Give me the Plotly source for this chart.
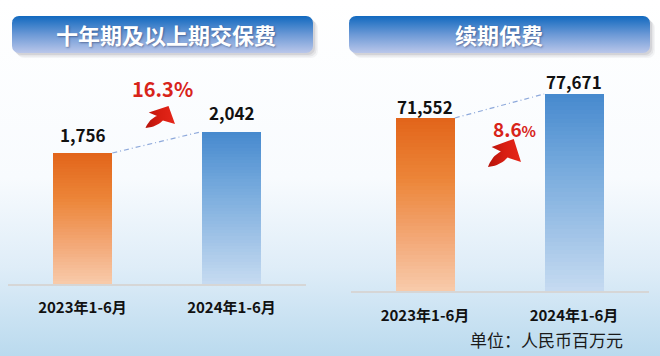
import plotly.graph_objects as go

W, H = 660, 356

# ---------------- data ----------------
categories = ["2023年1-6月", "2024年1-6月"]
panel_titles = ["十年期及以上期交保费", "续期保费"]
premium_10yr_plus = [1756, 2042]
renewal_premium = [71552, 77671]
unit_label = "单位：人民币百万元"

FONT = "Noto Sans CJK SC"
RED = "#D8241A"


def Y(px):
    return H - px


def hex2rgb(h):
    h = h.lstrip("#")
    return tuple(int(h[i:i + 2], 16) for i in (0, 2, 4))


def interp(stops, t):
    for (t0, c0), (t1, c1) in zip(stops[:-1], stops[1:]):
        if t0 <= t <= t1:
            f = (t - t0) / (t1 - t0) if t1 > t0 else 0
            a, b = hex2rgb(c0), hex2rgb(c1)
            return "rgb(%d,%d,%d)" % tuple(round(a[k] + (b[k] - a[k]) * f) for k in range(3))
    return stops[-1][1]


ORANGE = [(0, "#F8CBAB"), (0.3, "#F3A877"), (0.65, "#EC8538"), (1, "#E2641A")]
BLUE = [(0, "#C6DBF1"), (0.3, "#A0C3E7"), (0.65, "#73A8DC"), (1, "#4689CE")]


def rounded_rect(x0, y0, x1, y1, r, n=8):
    import math
    xs, ys = [], []
    corners = [(x1 - r, y0 + r, -90, 0), (x1 - r, y1 - r, 0, 90),
               (x0 + r, y1 - r, 90, 180), (x0 + r, y0 + r, 180, 270)]
    for cx, cy, a0, a1 in corners:
        for k in range(n + 1):
            a = math.radians(a0 + (a1 - a0) * k / n)
            xs.append(cx + r * math.cos(a))
            ys.append(Y(cy + r * math.sin(a)))
    xs.append(xs[0]); ys.append(ys[0])
    return xs, ys


def qbez(p0, c, p1, n=10):
    pts = []
    for k in range(n + 1):
        t = k / n
        pts.append(((1 - t) ** 2 * p0[0] + 2 * (1 - t) * t * c[0] + t * t * p1[0],
                    (1 - t) ** 2 * p0[1] + 2 * (1 - t) * t * c[1] + t * t * p1[1]))
    return pts


fig = go.Figure()

# background gradient
fig.add_trace(go.Scatter(
    x=[0, W, W, 0, 0], y=[0, 0, H, H, 0], mode="lines", line=dict(width=0),
    fill="toself", fillgradient=dict(type="vertical", start=0, stop=H,
                                     colorscale=[[0, "#BADAEE"], [0.25, "#DFEDF8"],
                                                 [0.5, "#F8FBFE"], [1, "#FFFFFF"]]),
    hoverinfo="skip", showlegend=False, xaxis="x", yaxis="y"))

# banners
banners = [(12, 16, 313, 53, 166), (349, 16, 650, 53, 499)]
for (bx0, by0, bx1, by1, tx), title in zip(banners, panel_titles):
    for off, alpha in [(5, 0.05), (3.5, 0.08), (2, 0.10)]:
        xs, ys = rounded_rect(bx0 + off, by0 + off, bx1 + off, by1 + off, 7)
        fig.add_trace(go.Scatter(x=xs, y=ys, mode="lines", line=dict(width=0),
                                 fill="toself", fillcolor="rgba(60,60,80,%g)" % alpha,
                                 hoverinfo="skip", showlegend=False, xaxis="x", yaxis="y"))
    xs, ys = rounded_rect(bx0, by0, bx1, by1, 7)
    fig.add_trace(go.Scatter(
        x=xs, y=ys, mode="lines", line=dict(width=0), fill="toself",
        fillgradient=dict(type="vertical", start=Y(by1), stop=Y(by0),
                          colorscale=[[0, "#BAC7EA"], [0.5, "#6C99D6"], [1, "#1169BF"]]),
        hoverinfo="skip", showlegend=False, xaxis="x", yaxis="y"))
    fig.add_annotation(x=tx, y=Y(34), xref="x", yref="y", text=title, showarrow=False,
                       font=dict(family=FONT, size=22, color="white", weight="bold",
                                 shadow="1px 1px 2px rgba(0,0,40,0.35)"))

# curved red arrows (normalized template in a unit box, y downward)
T, RIN, HR, TP, HL, LIN = (0, 1), (0.59, 0.66), (1.0, 0.82), (0.78, 0), (0.11, 0.29), (0.39, 0.45)
ARROW = (qbez(T, (0.36, 0.97), RIN) + [HR, TP, HL] + qbez(LIN, (0.12, 0.6), T))
arrow_boxes = [(145.5, 106, 29.5, 22), (488, 139, 33, 28)]
for ax0, ay0, aw, ah in arrow_boxes:
    fig.add_trace(go.Scatter(
        x=[ax0 + p[0] * aw for p in ARROW], y=[Y(ay0 + p[1] * ah) for p in ARROW],
        mode="lines", line=dict(width=0), fill="toself",
        fillgradient=dict(type="horizontal", start=ax0, stop=ax0 + aw,
                          colorscale=[[0, "#B5120A"], [0.5, "#D81E12"], [1, "#E5261A"]]),
        hoverinfo="skip", showlegend=False, xaxis="x", yaxis="y"))

# bar panels
panels = [
    dict(vals=premium_10yr_plus, xa="x2", ya="y2", ymin=0, shift=19,
         pct_pos=(162, 88), pct_size=20, pct_small=20),
    dict(vals=renewal_premium, xa="x3", ya="y3", ymin=27500, shift=12,
         pct_pos=(514, 128), pct_size=19, pct_small=15),
]
N = 48
BW = 0.4
for p in panels:
    vals, ymin = p["vals"], p["ymin"]
    for i in range(N):
        t0, t1 = i / N, (i + 1) / N
        tm = (t0 + t1) / 2
        fig.add_trace(go.Bar(
            x=list(range(len(categories))),
            y=[(v - ymin) * (t1 - t0) for v in vals],
            base=[ymin + (v - ymin) * t0 for v in vals],
            width=BW, marker=dict(color=[interp(ORANGE, tm), interp(BLUE, tm)], line=dict(width=0)),
            hoverinfo="skip", showlegend=False, xaxis=p["xa"], yaxis=p["ya"]))
    # connector line between bar tops
    fig.add_trace(go.Scatter(
        x=[BW / 2, 1 - BW / 2], y=vals, mode="lines",
        line=dict(color="#8EA9DB", width=1.2, dash="5px,3px,1px,3px"),
        hoverinfo="skip", showlegend=False, xaxis=p["xa"], yaxis=p["ya"]))
    for i, v in enumerate(vals):
        fig.add_annotation(x=i, y=v, xref=p["xa"], yref=p["ya"], text=f"{v:,}",
                           showarrow=False, yshift=p["shift"], yanchor="middle",
                           font=dict(family=FONT, size=17, color="#111111", weight="bold"))
    g = (vals[1] - vals[0]) / vals[0] * 100
    if p["pct_small"] != p["pct_size"]:
        txt = f"{g:.1f}<span style='font-size:{p['pct_small']}px'>%</span>"
    else:
        txt = f"{g:.1f}%"
    fig.add_annotation(x=p["pct_pos"][0], y=Y(p["pct_pos"][1]), xref="x", yref="y", text=txt,
                       showarrow=False,
                       font=dict(family=FONT, size=p["pct_size"], color=RED, weight="bold"))

fig.add_annotation(x=546, y=Y(339), xref="x", yref="y", text=unit_label, showarrow=False,
                   font=dict(family=FONT, size=17, color="#1A1A1A"))


def cat_axis(dom, anchor, standoff):
    return dict(domain=dom, anchor=anchor, range=[-0.5, 1.5], tickvals=[0, 1],
                ticktext=categories, showgrid=False, zeroline=False, showline=True,
                linecolor="#D6D6D6", linewidth=1.5, ticks="", ticklabelstandoff=standoff,
                tickfont=dict(family=FONT, size=15, color="#111111", weight="bold"),
                fixedrange=True)


def val_axis(dom, anchor, rng):
    return dict(domain=dom, anchor=anchor, range=rng, visible=False, showgrid=False,
                zeroline=False, fixedrange=True)


left_range = [0, (284 - 40) * premium_10yr_plus[0] / (284 - 153)]
right_scale = (renewal_premium[0] - 27500) / (291 - 118)
right_range = [27500, 27500 + (291 - 40) * right_scale]

fig.update_layout(
    width=W, height=H, margin=dict(l=0, r=0, t=0, b=0),
    paper_bgcolor="white", plot_bgcolor="rgba(0,0,0,0)",
    barmode="overlay", bargap=0, showlegend=False,
    xaxis=dict(domain=[0, 1], range=[0, W], visible=False, fixedrange=True),
    yaxis=dict(domain=[0, 1], range=[0, H], visible=False, fixedrange=True),
    xaxis2=cat_axis([8 / W, 306 / W], "y2", 9),
    yaxis2=val_axis([(H - 284) / H, (H - 40) / H], "x2", left_range),
    xaxis3=cat_axis([350.5 / W, 648.5 / W], "y3", 10),
    yaxis3=val_axis([(H - 291) / H, (H - 40) / H], "x3", right_range),
)

fig.write_html("out.html", config={"displayModeBar": False},
               post_script="document.body.style.margin='0';document.body.style.overflow='hidden';")
